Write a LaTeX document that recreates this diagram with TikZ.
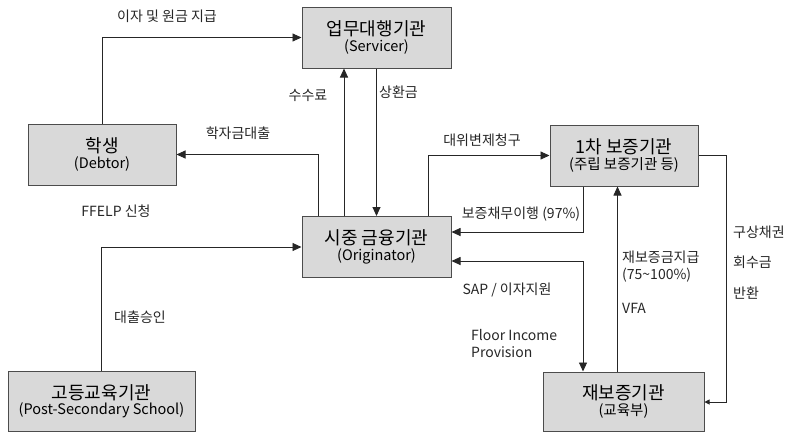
\documentclass[tikz,border=0pt]{standalone}
\usepackage{fontspec}
\setmainfont{Noto Sans CJK KR}
\usetikzlibrary{arrows.meta}

\newcommand\boxtext[2]{{\fontsize{18}{20}\selectfont #1}\\[1pt]{\fontsize{14.5}{16}\selectfont #2}}

\begin{document}
\begin{tikzpicture}[
            x=1pt, y=-1pt,
            > ={Triangle[length=9pt,width=8pt]},
            box/.style={
                draw=black!70,
                fill=black!15,
                line width=1pt,
                align=center,
                minimum width=#1,
                minimum height=61pt,
                inner sep=0pt,
            },
            box/.default=149pt,
            flow/.style={->, draw=black!85, line width=0.9pt},
            lbl/.style={font=\fontsize{14}{17}\selectfont, text=black!85, inner sep=0pt},
        ]
            \useasboundingbox (0,0) rectangle (788,432);

            % institutions
            \node[box] (serv) at (376.5,37.5) {\boxtext{업무대행기관}{(Servicer)}};
            \node[box=148pt] (debt) at (102,154.5) {\boxtext{학생}{(Debtor)}};
            \node[box] (orig) at (376.5,247) {\boxtext{시중 금융기관}{(Originator)}};
            \node[box=148pt] (guar) at (624,155.5) {\boxtext{1차 보증기관}{(주립 보증기관 등)}};
            \node[box=187pt, minimum height=60pt] (school) at (101.5,401) {\boxtext{고등교육기관}{(Post-Secondary School)}};
            \node[box=161pt, minimum height=59pt] (reg) at (623.5,401.5) {\boxtext{재보증기관}{(교육부)}};

            % flows
            \draw[flow] (debt.north) |- (serv.west);
            \draw[flow] ([xshift=-58.5pt]orig.north) |- (debt.east);
            \draw[flow] ([xshift=-32.5pt]orig.north) -- ([xshift=-32.5pt]serv.south);
            \draw[flow] (serv.south) -- (orig.north);
            \draw[flow] ([xshift=51.5pt]orig.north) |- (guar.west);
            \draw[flow] ([xshift=-41pt]guar.south) |- ([yshift=15pt]orig.east);
            \draw[flow, <->] ([yshift=-14pt]orig.east) -| ([xshift=-40.5pt]reg.north);
            \draw[flow] ([xshift=-6pt]reg.north) -- ([xshift=-6.5pt]guar.south);
            \draw[flow, -{Triangle[length=5pt,width=5pt]}]
                (guar.east) -- ++(28,0) coordinate (turn) |- ([yshift=-0.5pt]reg.east);
            \draw[flow] (school.north) |- (orig.west);

            % labels
            \node[lbl] (l-pay) at (167,16) {이자 및 원금 지급};
            \node[lbl] (l-loan) at (238,133) {학자금대출};
            \node[lbl] (l-fee) at (308,95) {수수료};
            \node[lbl, anchor=west] (l-repay) at (379,92) {상환금};
            \node[lbl] (l-claim) at (482,140) {대위변제청구};
            \node[lbl] (l-apply) at (116,211) {FFELP 신청};
            \node[lbl] (l-perf) at (521,214) {보증채무이행 (97\%)};
            \node[lbl] (l-sap) at (507,290) {SAP / 이자지원};
            \node[lbl, anchor=west, align=left] (l-floor) at (471,344) {Floor Income\\Provision};
            \node[lbl, anchor=west, align=left] (l-reins) at (622,267) {재보증금지급\\(75\textasciitilde 100\%)};
            \node[lbl, anchor=west] (l-vfa) at (622,308) {VFA};
            \node[lbl, anchor=west] (l-recov1) at (733,232) {구상채권};
            \node[lbl, anchor=west] (l-recov2) at (733,262) {회수금};
            \node[lbl, anchor=west] (l-recov3) at (733,293) {반환};
            \node[lbl] (l-approve) at (140,317) {대출승인};
        \end{tikzpicture}
\end{document}
